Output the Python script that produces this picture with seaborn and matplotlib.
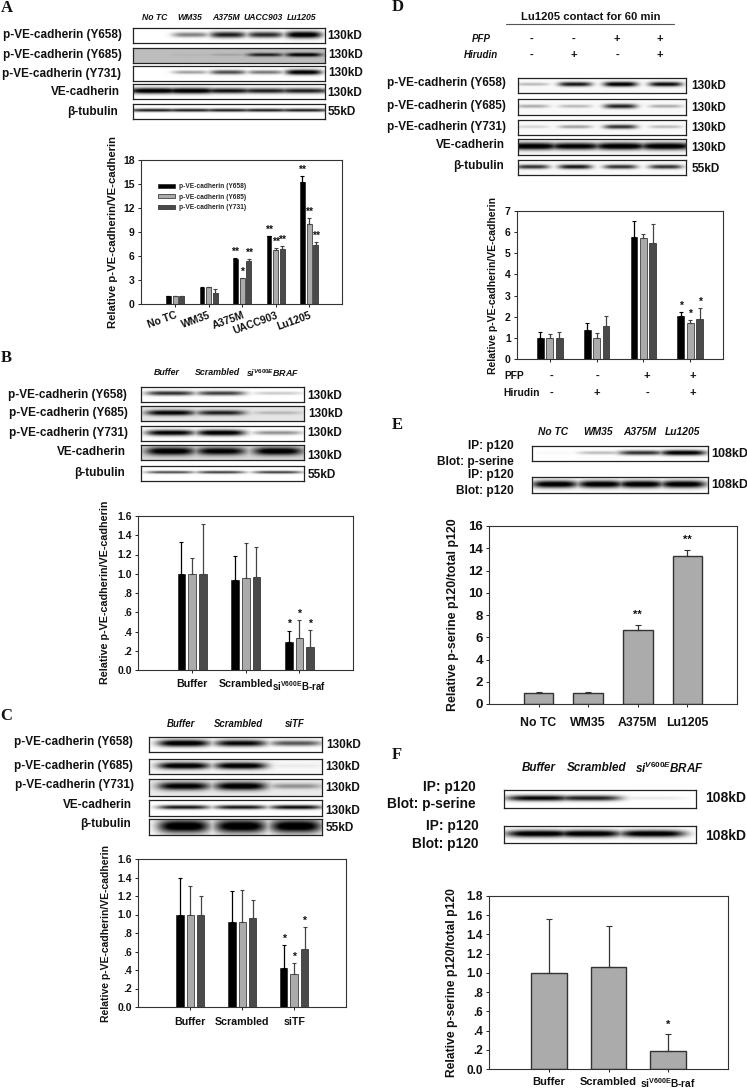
import numpy as np
import pandas as pd
import matplotlib
matplotlib.use('Agg')
import matplotlib.pyplot as plt
import seaborn as sns

W, H = 747, 1089
BLACK, GREY, DARK = '#000000', '#ababab', '#4a4a4a'
SERIES = ['p-VE-cadherin (Y658)', 'p-VE-cadherin (Y685)', 'p-VE-cadherin (Y731)']
YLAB = 'Relative p-VE-cadherin/VE-cadherin'
SI_RAF = 'si$^{V600E}$B-raf'
SI_BRAF = r'si$^{\mathit{V600E}}$BRAF'

# ---- bar values ----
a_cats = ['No TC', 'WM35', 'A375M', 'UACC903', 'Lu1205']
a_y658 = [1.0, 2.05, 5.6, 8.45, 15.25]
a_y685 = [1.0, 2.1, 3.2, 6.7, 10.0]
a_y731 = [1.0, 1.4, 5.35, 6.9, 7.35]
a_top658 = [1.05, 2.1, 5.8, 8.5, 16.0]
a_top685 = [1.05, 2.15, 3.3, 7.0, 10.75]
a_top731 = [1.05, 1.85, 5.6, 7.25, 7.7]
a_stars = [['', '', '**', '**', '**'], ['', '', '*', '**', '**'], ['', '', '**', '**', '**']]

b_cats = ['Buffer', 'Scrambled', SI_RAF]
b_y658 = [1.0, 0.93, 0.29]
b_y685 = [1.0, 0.96, 0.33]
b_y731 = [1.0, 0.97, 0.235]
b_top658 = [1.33, 1.18, 0.41]
b_top685 = [1.16, 1.32, 0.52]
b_top731 = [1.52, 1.28, 0.415]
b_stars = [['', '', '*']] * 3

c_cats = ['Buffer', 'Scrambled', 'siTF']
c_y658 = [1.0, 0.92, 0.42]
c_y685 = [1.0, 0.92, 0.36]
c_y731 = [1.0, 0.96, 0.63]
c_top658 = [1.39, 1.25, 0.67]
c_top685 = [1.31, 1.27, 0.48]
c_top731 = [1.2, 1.16, 0.86]
c_stars = [['', '', '*']] * 3

d_cats = ['g1', 'g2', 'g3', 'g4']
d_y658 = [1.0, 1.35, 5.78, 2.05]
d_y685 = [1.0, 0.98, 5.7, 1.68]
d_y731 = [1.0, 1.58, 5.47, 1.87]
d_top658 = [1.3, 1.72, 6.53, 2.2]
d_top685 = [1.2, 1.25, 5.9, 1.85]
d_top731 = [1.3, 2.05, 6.4, 2.42]
d_stars = [['', '', '', '*']] * 3
d_pfp = ['-', '-', '+', '+']
d_hirudin = ['-', '+', '-', '+']

e_cats = ['No TC', 'WM35', 'A375M', 'Lu1205']
e_vals = [1.0, 1.0, 6.65, 13.3]
e_tops = [1.05, 1.05, 7.1, 13.85]
e_stars = ['', '', '**', '**']

f_cats = ['Buffer', 'Scrambled', SI_RAF]
f_vals = [1.0, 1.06, 0.19]
f_tops = [1.56, 1.49, 0.36]
f_stars = ['', '', '*']

# ---- blot band darkness per lane ----
a_lanes = [0.11, 0.30, 0.495, 0.69, 0.89]
a_blots = [[0.0, 0.45, 0.8, 0.75, 1.0], [0.0, 0.05, 0.15, 0.8, 1.0], [0.0, 0.35, 0.65, 0.5, 1.0],
           [1.0, 1.0, 0.85, 0.8, 0.8], [0.85, 0.85, 0.85, 0.85, 0.85]]
b_lanes = [0.18, 0.49, 0.84]
b_blots = [[0.75, 0.7, 0.2], [0.95, 0.8, 0.2], [0.95, 1.0, 0.4], [1.0, 0.95, 1.0], [0.7, 0.75, 0.75]]
c_lanes = [0.2, 0.53, 0.85]
c_blots = [[1.0, 0.9, 0.6], [1.0, 1.0, 0.05], [0.95, 1.0, 0.35], [0.85, 0.85, 0.9], [1.0, 1.0, 1.0]]
d_lanes = [0.085, 0.34, 0.61, 0.88]
d_blots = [[0.25, 0.85, 1.0, 0.9], [0.3, 0.25, 0.8, 0.3], [0.15, 0.35, 0.75, 0.25],
           [1.0, 0.95, 1.0, 1.0], [0.75, 0.85, 0.75, 0.75]]
e_lanes = [0.13, 0.39, 0.62, 0.86]
e_blots = [[0.03, 0.25, 0.75, 1.0], [1.0, 1.0, 1.0, 1.0]]
f_lanes = [0.18, 0.44, 0.77]
f_blots = [[0.9, 0.8, 0.08], [1.0, 1.0, 1.0]]

sns.set_theme(style='white')
plt.rcParams['font.family'] = ['Liberation Sans', 'DejaVu Sans']
plt.rcParams['font.weight'] = 'bold'
plt.rcParams['mathtext.fontset'] = 'custom'
plt.rcParams['mathtext.rm'] = 'Liberation Sans:bold'
plt.rcParams['mathtext.it'] = 'Liberation Sans:italic:bold'
plt.rcParams['mathtext.bf'] = 'Liberation Sans:bold'
plt.rcParams['mathtext.default'] = 'rm'

fig = plt.figure(figsize=(W / 100, H / 100), dpi=100)


def px_axes(l, t, r, b):
    return fig.add_axes([l / W, 1 - b / H, (r - l) / W, (b - t) / H])


def txt(x, y, s, size=8.5, ha='left', **kw):
    fig.text(x / W, 1 - y / H, s, fontsize=size, ha=ha, va='center', color='#111111', **kw)


def blot(l, t, r, b, lanes, dark, bg=1.0, thick=0.16, lane_w=0.085):
    xx, yy = np.meshgrid(np.linspace(0, 1, 300), np.linspace(0, 1, 40))
    band = np.zeros_like(xx)
    for c, d in zip(lanes, dark):
        t_h = thick * (0.55 + 0.6 * d)
        band = np.maximum(band, d * np.exp(-((xx - c) / lane_w) ** 4) * np.exp(-((yy - 0.45) / t_h) ** 2))
    ax = px_axes(l, t, r, b)
    ax.imshow(bg * (1 - np.clip(band * 1.15, 0, 1)), cmap='gray', vmin=0, vmax=1,
              aspect='auto', interpolation='bicubic')
    ax.set_xticks([])
    ax.set_yticks([])
    for s in ax.spines.values():
        s.set_visible(True)
        s.set_color('#222222')
        s.set_linewidth(0.9)


def style_axes(ax, ylim, yticks, ylabels, xlim, tick_size):
    ax.set_ylim(*ylim)
    ax.set_xlim(*xlim)
    ax.set_yticks(yticks)
    ax.set_yticklabels(ylabels, fontsize=tick_size, fontweight='bold')
    ax.set_xlabel('')
    ax.set_ylabel('')
    ax.tick_params(axis='both', direction='out', length=2.5, width=0.7, color='#222222',
                   bottom=True, left=True, pad=2, labelcolor='#111111')
    for s in ax.spines.values():
        s.set_visible(True)
        s.set_color('#333333')
        s.set_linewidth(0.8)


def grouped(rect, cats, vals, tops, stars, ylim, yticks, ylabels, xlim, tick_size, star_size=7.5, legend=False):
    df = pd.DataFrame({'cat': list(cats) * 3,
                       'val': vals[0] + vals[1] + vals[2],
                       'series': sum([[s] * len(cats) for s in SERIES], [])})
    ax = px_axes(*rect)
    sns.barplot(data=df, x='cat', y='val', hue='series', hue_order=SERIES, order=list(cats),
                palette=[BLACK, GREY, DARK], saturation=1, width=0.6, gap=0.28, errorbar=None,
                edgecolor='#222222', linewidth=0.5, legend=legend, ax=ax)
    for cont, top, star, col in zip(ax.containers, tops, stars, ['#000000', '#444444', '#444444']):
        for bar, tp, st in zip(cont, top, star):
            x = bar.get_x() + bar.get_width() / 2
            v = bar.get_height()
            ax.errorbar(x, v, yerr=[[0], [tp - v]], color=col, lw=0.9, capsize=1.6, capthick=0.8)
            if st:
                ax.annotate(st, (x, tp), xytext=(0, 4.5), textcoords='offset points', ha='center',
                            va='center', fontsize=star_size, color='#111111')
    style_axes(ax, ylim, yticks, ylabels, xlim, tick_size)
    return ax


def single(rect, cats, vals, tops, stars, ylim, yticks, ylabels, xlim, tick_size, star_off=8):
    ax = px_axes(*rect)
    sns.barplot(x=cats, y=vals, color=GREY, saturation=1, width=0.6, errorbar=None,
                edgecolor='#333333', linewidth=1.0, ax=ax)
    for bar, tp, st in zip(ax.containers[0], tops, stars):
        x = bar.get_x() + bar.get_width() / 2
        v = bar.get_height()
        ax.errorbar(x, v, yerr=[[0], [tp - v]], color='#333333', lw=0.9, capsize=2, capthick=0.8)
        if st:
            ax.annotate(st, (x, tp), xytext=(0, star_off), textcoords='offset points', ha='center',
                        va='center', fontsize=8, color='#111111')
    style_axes(ax, ylim, yticks, ylabels, xlim, tick_size)
    return ax


def left_labels(rows, size=8.5):
    for x, y, s in rows:
        txt(x, y, s, size=size, ha='right')


def kd_labels(rows, size=8.5):
    for x, y, s in rows:
        txt(x, y, s, size=size)


# panel letters
for x, y, s in [(1, 8, 'A'), (1, 358, 'B'), (0, 716, 'C'), (392, 7, 'D'), (392, 425, 'E'), (392, 755, 'F')]:
    txt(x, y, s, size=12, family='Liberation Serif')

# ---- A ----
for x, s in zip([155, 190, 226, 263, 302], a_cats):
    txt(x, 18, s, size=6.2, ha='center', style='italic')
for (t, b), d, bg, th in zip([(28, 43), (48, 63), (66, 81), (84, 99), (104, 119)], a_blots,
                             [1.0, 0.74, 1.0, 1.0, 1.0], [0.2, 0.11, 0.14, 0.17, 0.09]):
    blot(133, t, 325, b, a_lanes, d, bg=bg, thick=th, lane_w=0.095 if th != 0.17 and th != 0.09 else 0.14)
left_labels([(122, 35, SERIES[0]), (122, 55, SERIES[1]), (121, 74, SERIES[2]),
             (120, 92, 'VE-cadherin'), (118, 112, 'β-tubulin')])
kd_labels([(327, 36, '130kD'), (328, 55, '130kD'), (328, 73, '130kD'), (327, 93, '130kD'), (328, 112, '55kD')])
ax_a = grouped((141, 160, 342, 304), a_cats, [a_y658, a_y685, a_y731], [a_top658, a_top685, a_top731], a_stars,
               (0, 18), [0, 3, 6, 9, 12, 15, 18], ['0', '3', '6', '9', '12', '15', '18'], (-1.02, 4.98), 7.5,
               legend=True)
ax_a.set_xticks(range(5))
ax_a.set_xticklabels(a_cats, rotation=20, ha='right', rotation_mode='anchor', fontsize=7.5, fontweight='bold')
ax_a.legend(loc='upper left', bbox_to_anchor=(0.085, 0.84), frameon=False, fontsize=4.8, handlelength=2.5,
            handleheight=0.5, labelspacing=0.55, borderpad=0, borderaxespad=0, handletextpad=0.6)
txt(113, 232, YLAB, size=8.1, ha='center', rotation=90)

# ---- B ----
for x, s in zip([167, 217, 273], ['Buffer', 'Scrambled', SI_BRAF]):
    txt(x, 373, s, size=6.4, ha='center', style='italic')
for (t, b), d, bg, th in zip([(387, 402), (406, 421), (426, 441), (445, 460), (466, 481)], b_blots,
                             [1.0, 0.9, 1.0, 0.85, 1.0], [0.14, 0.16, 0.17, 0.22, 0.08]):
    blot(141, t, 304, b, b_lanes, d, bg=bg, thick=th, lane_w=0.15)
left_labels([(127, 395, SERIES[0]), (128, 413, SERIES[1]), (128, 433, SERIES[2]),
             (126, 452, 'VE-cadherin'), (125, 473, 'β-tubulin')])
kd_labels([(307, 396, '130kD'), (308, 414, '130kD'), (307, 433, '130kD'), (307, 456, '130kD'), (308, 475, '55kD')])
ticks16 = [0, 0.2, 0.4, 0.6, 0.8, 1.0, 1.2, 1.4, 1.6]
labs16 = ['0.0', '.2', '.4', '.6', '.8', '1.0', '1.2', '1.4', '1.6']
ax_b = grouped((138, 516, 353, 670), b_cats, [b_y658, b_y685, b_y731], [b_top658, b_top685, b_top731], b_stars,
               (0, 1.6), ticks16, labs16, (-1.01, 3.0), 7.5)
ax_b.set_xticks(range(3))
ax_b.set_xticklabels(b_cats, fontsize=7.7, fontweight='bold')
ax_b.get_xticklabels()[2].set_fontsize(7)
ax_b.tick_params(axis='x', pad=4)
txt(105, 592, YLAB, size=7.75, ha='center', rotation=90)

# ---- C ----
for x, s in zip([181, 238, 295], c_cats):
    txt(x, 724, s, size=6.9, ha='center', style='italic')
for (t, b), d, bg, th in zip([(737, 752), (759, 774), (779, 796), (800, 816), (819, 835)], c_blots,
                             [1.0, 0.97, 0.92, 1.0, 1.0], [0.19, 0.2, 0.2, 0.12, 0.38]):
    blot(149, t, 322, b, c_lanes, d, bg=bg, thick=th, lane_w=0.15)
left_labels([(133, 742, SERIES[0]), (133, 766, SERIES[1]), (134, 785, SERIES[2]),
             (132, 805, 'VE-cadherin'), (131, 824, 'β-tubulin')])
kd_labels([(326, 745, '130kD'), (325, 767, '130kD'), (325, 788, '130kD'), (325, 811, '130kD'), (326, 828, '55kD')])
ax_c = grouped((138, 859, 346, 1007), c_cats, [c_y658, c_y685, c_y731], [c_top658, c_top685, c_top731], c_stars,
               (0, 1.6), ticks16, labs16, (-1.01, 3.0), 7.5)
ax_c.set_xticks(range(3))
ax_c.set_xticklabels(c_cats, fontsize=7.7, fontweight='bold')
ax_c.tick_params(axis='x', pad=5)
txt(106, 933, YLAB, size=7.45, ha='center', rotation=90)

# ---- D ----
txt(591, 17, 'Lu1205 contact for 60 min', size=8.1, ha='center')
fig.add_artist(plt.Line2D([506 / W, 674 / W], [1 - 24 / H, 1 - 24 / H], color='#555555', lw=0.8))
txt(481, 39, 'PFP', size=7, ha='center', style='italic')
txt(481, 55, 'Hirudin', size=7, ha='center', style='italic')
for x, p, h in zip([531, 574, 617, 660], d_pfp, d_hirudin):
    txt(x, 39, p, size=8, ha='center')
    txt(x, 55, h, size=8, ha='center')
for (t, b), d, th in zip([(78, 93), (99, 115), (120, 135), (139, 155), (160, 175)], d_blots,
                         [0.13, 0.14, 0.14, 0.2, 0.14]):
    blot(518, t, 686, b, d_lanes, d, bg=0.98, thick=th, lane_w=0.1 if th < 0.19 else 0.16)
left_labels([(506, 83, SERIES[0]), (506, 106, SERIES[1]), (506, 127, SERIES[2]),
             (505, 145, 'VE-cadherin'), (504, 166, 'β-tubulin')])
kd_labels([(691, 86, '130kD'), (691, 108, '130kD'), (691, 128, '130kD'), (691, 148, '130kD'), (692, 169, '55kD')])
ax_d = grouped((517, 211, 723, 359), d_cats, [d_y658, d_y685, d_y731], [d_top658, d_top685, d_top731], d_stars,
               (0, 7), list(range(8)), [str(i) for i in range(8)], (-0.7, 3.7), 7.5)
ax_d.set_xticks(range(4))
ax_d.set_xticklabels([])
txt(493, 285, YLAB, size=7.45, ha='center', rotation=90)
txt(504, 376, 'PFP', size=7.4)
txt(503, 393, 'Hirudin', size=7.4)
for x, p, h in zip([551, 597, 647, 693], d_pfp, d_hirudin):
    txt(x, 376, p, size=8, ha='center')
    txt(x, 393, h, size=8, ha='center')

# ---- E ----
for x, s in zip([553, 598, 640, 683], e_cats):
    txt(x, 432, s, size=7.4, ha='center', style='italic')
for (t, b), d, th in zip([(446, 461), (477, 493)], e_blots, [0.15, 0.2]):
    blot(532, t, 708, b, e_lanes, d, thick=th, lane_w=0.13)
left_labels([(514, 446, 'IP: p120'), (514, 462, 'Blot: p-serine'), (514, 475, 'IP: p120'), (514, 491, 'Blot: p120')], size=8.6)
kd_labels([(711, 454, '108kD'), (711, 485, '108kD')], size=9)
ax_e = single((489, 526, 737, 704), e_cats, e_vals, e_tops, e_stars, (0, 16), list(range(0, 17, 2)),
              [str(i) for i in range(0, 17, 2)], (-1.0, 4.0), 9.5, star_off=7)
ax_e.set_xticks(range(4))
ax_e.set_xticklabels(e_cats, fontsize=8.8, fontweight='bold')
ax_e.tick_params(axis='x', pad=7)
txt(453, 615, 'Relative p-serine p120/total p120', size=8.9, ha='center', rotation=90)

# ---- F ----
for x, s in zip([539, 597, 670], ['Buffer', 'Scrambled', SI_BRAF]):
    txt(x, 768, s, size=8.4, ha='center', style='italic')
for (t, b), d, th in zip([(790, 808), (826, 843)], f_blots, [0.15, 0.18]):
    blot(504, t, 696, b, f_lanes, d, thick=th, lane_w=0.17)
left_labels([(476, 787, 'IP: p120'), (476, 804, 'Blot: p-serine'), (479, 826, 'IP: p120'), (479, 844, 'Blot: p120')], size=9.9)
kd_labels([(705, 798, '108kD'), (705, 836, '108kD')], size=10)
ticks18 = ticks16 + [1.8]
labs18 = labs16 + ['1.8']
ax_f = single((489, 896, 728, 1069), f_cats, f_vals, f_tops, f_stars, (0, 1.8), ticks18, labs18, (-1.0, 3.0), 8.5, star_off=7)
ax_f.set_xticks(range(3))
ax_f.set_xticklabels(f_cats, fontsize=8, fontweight='bold')
ax_f.get_xticklabels()[2].set_fontsize(7.3)
ax_f.tick_params(axis='x', pad=3)
txt(452, 983, 'Relative p-serine p120/total p120', size=8.7, ha='center', rotation=90)

fig.savefig('out.png', dpi=100)
